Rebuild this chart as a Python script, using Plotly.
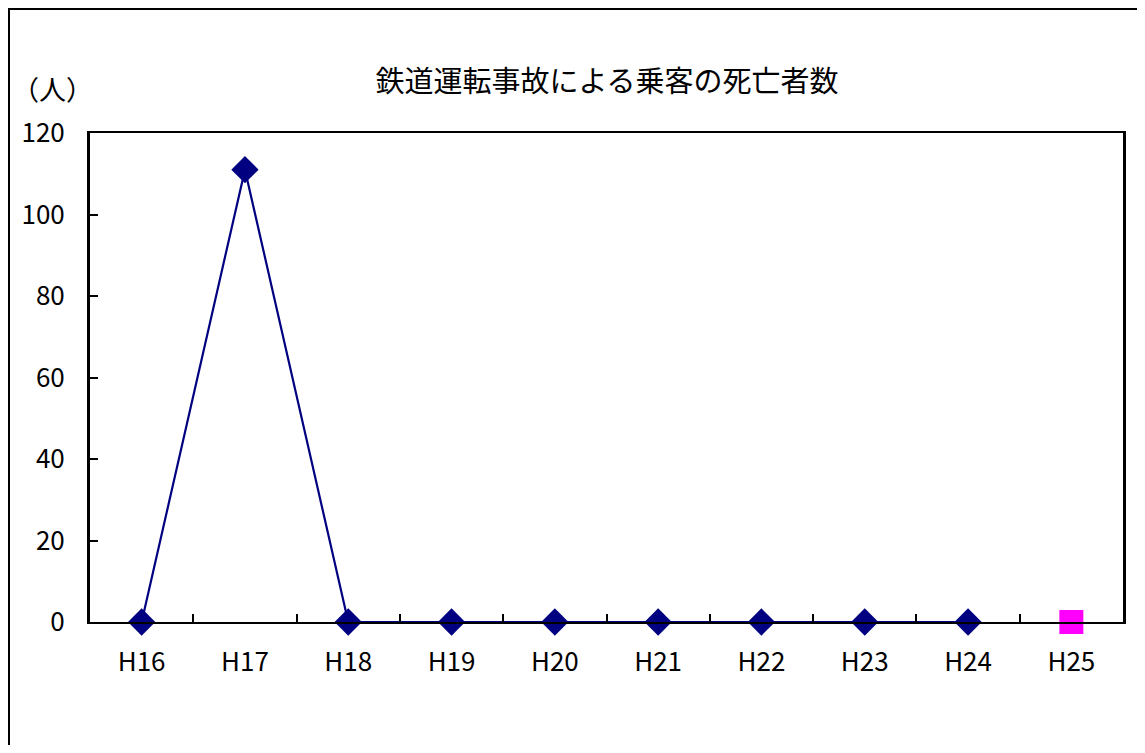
import plotly.graph_objects as go

categories = ["H16", "H17", "H18", "H19", "H20", "H21", "H22", "H23", "H24", "H25"]
deaths = [0, 111, 0, 0, 0, 0, 0, 0, 0]          # H16–H24 (confirmed)
latest_cat = ["H25"]
latest_val = [0]                                   # H25 (highlighted)

title_text = "鉄道運転事故による乗客の死亡者数"
unit_label = "（人）"
y_ticks = [0, 20, 40, 60, 80, 100, 120]

FONT = "Noto Sans CJK JP"
# page body has an 8px default margin, so figure coordinates = screen - 8
W, H = 1137, 737
L, R, T, B = 82, 1115, 125, 614
pw, ph = R - L, B - T

fig = go.Figure()
fig.add_trace(go.Scatter(
    x=categories[:len(deaths)], y=deaths, mode="lines+markers",
    line=dict(color="#000080", width=2.2),
    marker=dict(symbol="diamond", size=21, color="#000080"),
    showlegend=False, cliponaxis=False,
))
fig.add_trace(go.Scatter(
    x=latest_cat, y=latest_val, mode="markers",
    marker=dict(symbol="square", size=24, color="#FF00FF"),
    showlegend=False, cliponaxis=False,
))

def px_x(p):
    return (p - L) / pw

def px_y(p):
    return (B - p) / ph

fig.update_layout(
    width=W, height=H,
    margin=dict(l=L, r=W - R, t=T, b=H - B, autoexpand=False),
    paper_bgcolor="white", plot_bgcolor="white",
    font=dict(family=FONT, size=26, color="black"),
    title=dict(text=title_text, font=dict(family=FONT, size=29, color="black"),
               xref="container", x=599 / W, xanchor="center",
               yref="container", y=1 - 74 / H, yanchor="middle"),
    xaxis=dict(
        type="category", categoryorder="array", categoryarray=categories,
        range=[-0.5, len(categories) - 0.5],
        showline=True, linecolor="black", linewidth=2, mirror=True,
        ticks="inside", ticklen=8, tickcolor="black", tickwidth=1.5,
        tickson="boundaries", showgrid=False, zeroline=False,
        tickfont=dict(family=FONT, size=26), ticklabelstandoff=16,
    ),
    yaxis=dict(
        range=[0, 120], tickvals=y_ticks,
        showline=True, linecolor="black", linewidth=3, mirror=True,
        ticks="inside", ticklen=8, tickcolor="black", tickwidth=1.5,
        showgrid=False, zeroline=False,
        tickfont=dict(family=FONT, size=26), ticklabelstandoff=17,
    ),
    annotations=[dict(
        text=unit_label, xref="paper", yref="paper",
        x=px_x(44), y=px_y(80), xanchor="center", yanchor="middle",
        showarrow=False, font=dict(family=FONT, size=27, color="black"),
    )],
    shapes=[dict(
        type="rect", xref="paper", yref="paper",
        x0=px_x(1), x1=px_x(1160), y0=px_y(770), y1=px_y(1),
        line=dict(color="black", width=2), fillcolor="rgba(0,0,0,0)",
        layer="above",
    )],
)

fig.write_html("out.html")
